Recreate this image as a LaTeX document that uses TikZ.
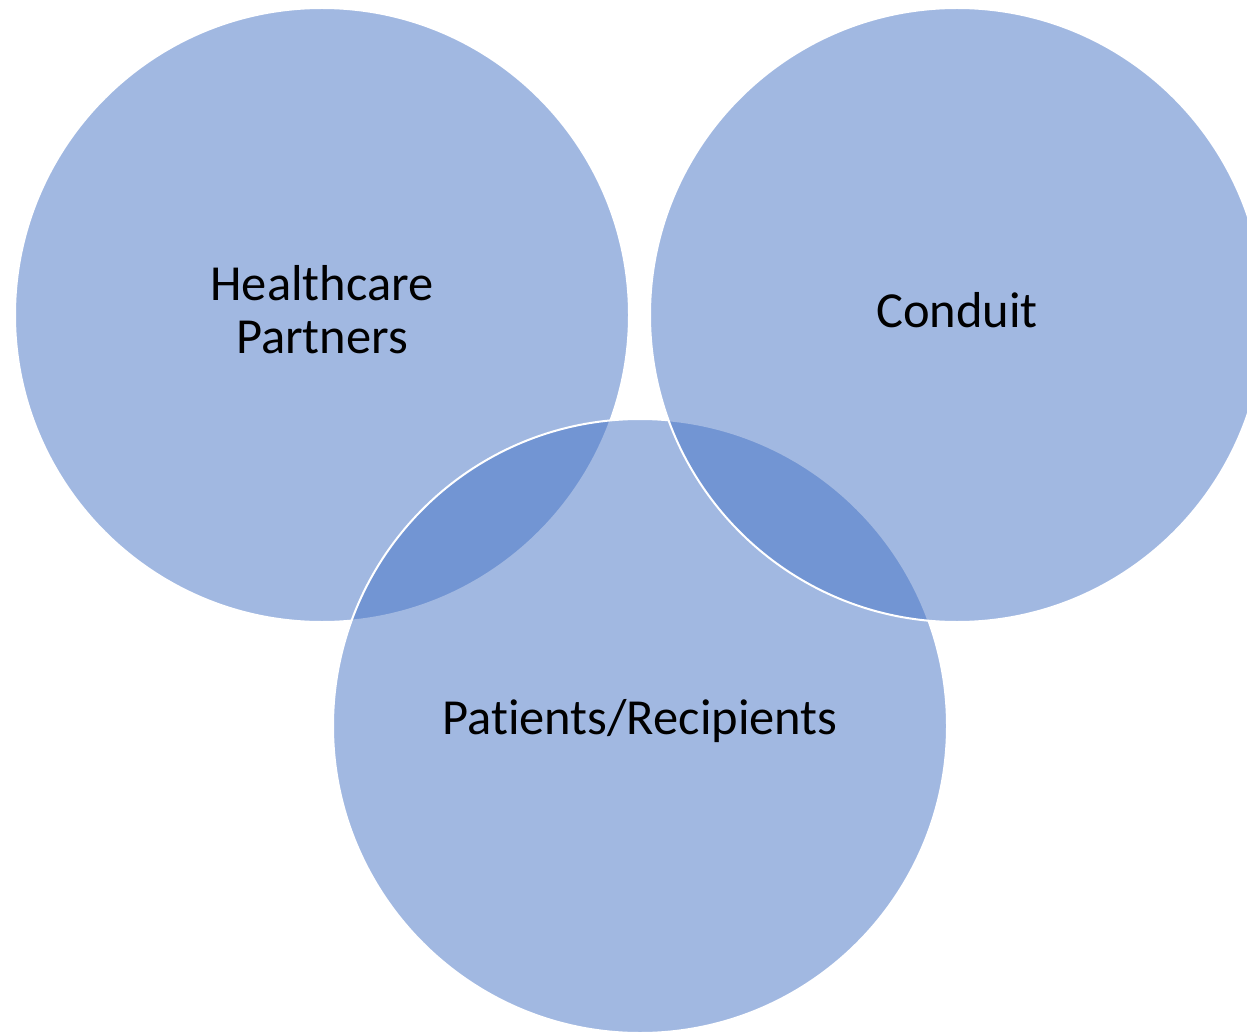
\documentclass[tikz,border=0pt]{standalone}
\usepackage{fontspec}
\setmainfont{Carlito}[RawFeature=-liga]
\definecolor{vennblue}{HTML}{4472C4}
\begin{document}
\begin{tikzpicture}[x=1pt,y=-1pt,
  venn/.style={circle, inner sep=0pt, outer sep=0pt, minimum size=614pt,
    fill=vennblue, fill opacity=0.5, draw=white, draw opacity=1, line width=2pt},
  lbl/.style={font=\fontsize{50.5}{52.5}\selectfont, text=black, align=center, inner sep=0pt, anchor=base}]
\useasboundingbox (0,0) rectangle (1247,1032);
\node[venn] (hp) at (322,315) {};
\node[venn] (pr) at (640,726) {};
\node[venn] (cd) at (957,315) {};
\node[lbl] (hpl) at (322,353) {Healthcare\\Partners};
\node[lbl] (cdl) at (957,327) {Conduit};
\node[lbl] (prl) at (640,734) {Patients/Recipients};
\end{tikzpicture}
\end{document}
